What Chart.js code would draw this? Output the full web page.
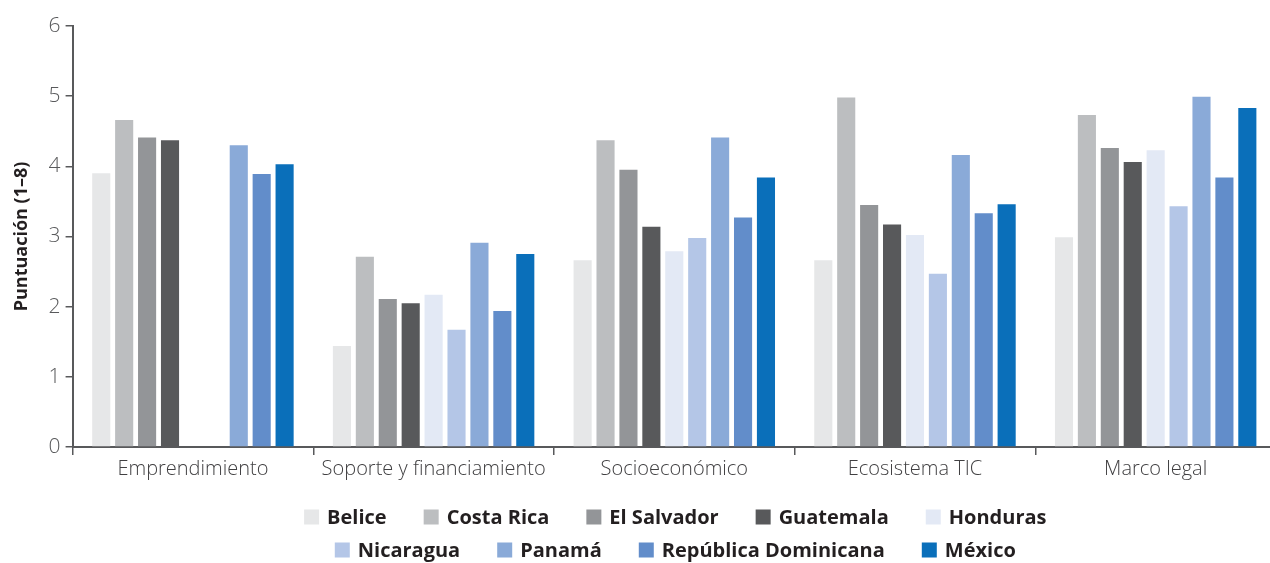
<!DOCTYPE html>
<html>
<head>
<meta charset="utf-8">
<script src="https://cdn.jsdelivr.net/npm/chart.js@4"></script>
<style>
  html, body { margin: 0; padding: 0; background: #ffffff; overflow: hidden; }
  #wrap { width: 1276px; height: 563px; position: relative; }
</style>
</head>
<body>
<div id="wrap"><canvas id="c"></canvas></div>
<script>
const categories = ["Emprendimiento", "Soporte y financiamiento", "Socioeconómico", "Ecosistema TIC", "Marco legal"];
const seriesNames = ["Belice", "Costa Rica", "El Salvador", "Guatemala", "Honduras", "Nicaragua", "Panamá", "República Dominicana", "México"];
const seriesColors = ["#e6e7e8", "#bcbec0", "#939598", "#58595b", "#e3e9f5", "#b4c6e7", "#8aaad8", "#628dca", "#0a6fba"];

const belice        = [3.90, 1.44, 2.66, 2.66, 2.99];
const costaRica     = [4.66, 2.71, 4.37, 4.98, 4.73];
const elSalvador    = [4.41, 2.11, 3.95, 3.45, 4.26];
const guatemala     = [4.37, 2.05, 3.14, 3.17, 4.06];
const honduras      = [null, 2.17, 2.79, 3.02, 4.23];
const nicaragua     = [null, 1.67, 2.98, 2.47, 3.43];
const panama        = [4.30, 2.91, 4.41, 4.16, 4.99];
const repDominicana = [3.89, 1.94, 3.27, 3.33, 3.84];
const mexico        = [4.03, 2.75, 3.84, 3.46, 4.83];

const seriesValues = [belice, costaRica, elSalvador, guatemala, honduras, nicaragua, panama, repDominicana, mexico];
const yTicks = [0, 1, 2, 3, 4, 5, 6];
const legendRows = [[0, 1, 2, 3, 4], [5, 6, 7, 8]];

// Custom two-row legend drawn on the chart canvas from the datasets
const rowLegend = {
  id: 'rowLegend',
  afterDraw(chart) {
    const ctx = chart.ctx;
    const ca = chart.chartArea;
    const ds = chart.data.datasets;
    const BOX = 15, GAP_TXT = 8, GAP_ITEM = 37;
    const centerX = (ca.left + ca.right) / 2 + 1;
    const rowY = [chart.height - 46, chart.height - 13];
    ctx.save();
    ctx.font = "bold 20px 'Open Sans'";
    ctx.textBaseline = 'middle';
    ctx.textAlign = 'left';
    legendRows.forEach((row, r) => {
      const widths = row.map(i => BOX + GAP_TXT + ctx.measureText(ds[i].label).width);
      const total = widths.reduce((a, b) => a + b, 0) + GAP_ITEM * (row.length - 1);
      let x = centerX - total / 2;
      const y = rowY[r];
      row.forEach((i, k) => {
        ctx.fillStyle = ds[i].backgroundColor;
        ctx.fillRect(x, y - BOX / 2, BOX, BOX);
        ctx.fillStyle = '#231f20';
        ctx.fillText(ds[i].label, x + BOX + GAP_TXT, y + 1);
        x += widths[k] + GAP_ITEM;
      });
    });
    ctx.restore();
  }
};

new Chart(document.getElementById('c'), {
  type: 'bar',
  data: {
    labels: categories,
    datasets: seriesNames.map((n, i) => ({
      label: n,
      data: seriesValues[i],
      backgroundColor: seriesColors[i],
      borderWidth: 0,
      categoryPercentage: 0.857,
      barPercentage: 0.79
    }))
  },
  plugins: [rowLegend],
  options: {
    responsive: true,
    maintainAspectRatio: false,
    animation: false,
    layout: { padding: { top: 26, right: 0, left: 11, bottom: 80 } },
    plugins: {
      tooltip: { enabled: false },
      legend: { display: false }
    },
    scales: {
      x: {
        grid: {
          offset: true,
          drawOnChartArea: false,
          drawTicks: true,
          tickLength: 8,
          color: '#58595b',
          lineWidth: 1.5
        },
        border: { display: true, color: '#58595b', width: 2 },
        ticks: {
          color: '#414042',
          padding: 2,
          autoSkip: false,
          maxRotation: 0,
          minRotation: 0,
          font: { family: 'Open Sans', size: 20, weight: 300 }
        }
      },
      y: {
        min: 0,
        max: 6,
        afterBuildTicks(axis) { axis.ticks = yTicks.map(v => ({ value: v })); },
        grid: {
          drawOnChartArea: false,
          drawTicks: true,
          tickLength: 7,
          color: '#58595b',
          lineWidth: 1.5
        },
        border: { display: true, color: '#58595b', width: 2 },
        ticks: {
          color: '#58595b',
          padding: 5,
          font: { family: 'Open Sans', size: 21, weight: 300 }
        },
        title: {
          display: true,
          text: 'Puntuación (1–8)',
          color: '#231f20',
          padding: { top: 0, bottom: 11 },
          font: { family: 'Open Sans', size: 18, weight: 'bold' }
        }
      }
    }
  }
});
</script>
</body>
</html>
